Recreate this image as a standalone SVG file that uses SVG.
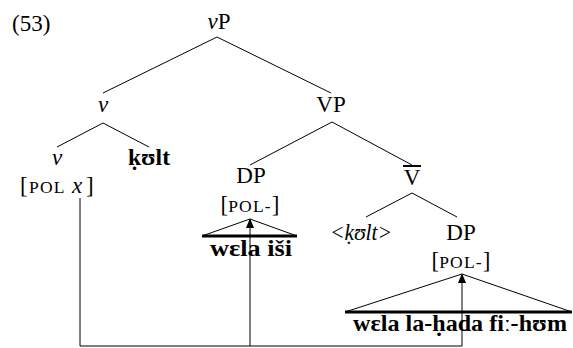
<svg xmlns="http://www.w3.org/2000/svg" width="573" height="348" viewBox="0 0 573 348">
<style>
text{font-family:'Liberation Serif','Times New Roman',Tinos,'DejaVu Serif',serif;font-size:23px;fill:#000}
.m{text-anchor:middle}
.i{font-style:italic}
.b{font-weight:bold;font-size:24px}
.sc{font-size:17.5px;letter-spacing:1.2px}
.e{stroke:#000;stroke-width:1;fill:none}
.base{stroke:#000;stroke-width:3;fill:none}
</style>
<defs>
<marker id="ah" markerUnits="userSpaceOnUse" markerWidth="10" markerHeight="13" refX="10" refY="5" orient="auto" viewBox="0 0 12 10">
<path d="M0,0 L12,5 L0,10 z" fill="#000"/>
</marker>
</defs>
<text x="12" y="31">(53)</text>
<g id="vP"><text class="m" x="219" y="29"><tspan class="i">v</tspan>P</text></g>
<g id="v1"><text class="m i" x="103" y="112">v</text></g>
<g id="VP"><text class="m" x="331" y="112">VP</text></g>
<g id="v2"><text class="m i" x="57" y="165">v</text><text x="20" y="193">[<tspan class="sc" x="29">POL</tspan> <tspan class="i" x="72">x</tspan><tspan x="86">]</tspan></text></g>
<g id="kult"><text class="b" x="128" y="165" textLength="42" lengthAdjust="spacingAndGlyphs">ḳʊlt</text></g>
<g id="DP1"><text class="m" x="251" y="183">DP</text><text class="m" x="250" y="212">[<tspan class="sc">POL-</tspan>]</text></g>
<g id="Vbar"><text class="m" x="412" y="185">V</text><line x1="403" y1="166" x2="421" y2="166" stroke="#000" stroke-width="2"/></g>
<g id="kult2"><text class="m i" x="361" y="240" textLength="62" lengthAdjust="spacingAndGlyphs">&lt;ḳʊlt&gt;</text></g>
<g id="DP2"><text class="m" x="461" y="240">DP</text><text class="m" x="461" y="268">[<tspan class="sc">POL-</tspan>]</text></g>
<g id="tri1"><path class="e" d="M202,236 L250,219 L297,236"/><line class="base" x1="202" y1="236" x2="297" y2="236"/><text class="m b" x="251" y="256" textLength="82" lengthAdjust="spacingAndGlyphs">wɛla iši</text></g>
<g id="tri2"><path class="e" d="M345,312 L462,274 L572,312"/><line class="base" x1="345" y1="312" x2="572" y2="312"/><text class="m b" x="460" y="331" textLength="214" lengthAdjust="spacingAndGlyphs">wɛla la-ḥada fiː-hʊm</text></g>
<g id="connectors">
<path class="e" d="M217,37 L103,93 M217,37 L331,93"/>
<path class="e" d="M103,123 L57,147 M103,123 L149,147"/>
<path class="e" d="M332,122 L250,165 M332,122 L412,165"/>
<path class="e" d="M412,193 L366,217 M412,193 L457,217"/>
<path class="e" d="M80,198 L80,346 L462,346 L462,275" marker-end="url(#ah)"/>
<path class="e" d="M250,346 L250,220" marker-end="url(#ah)"/>
</g>
</svg>
